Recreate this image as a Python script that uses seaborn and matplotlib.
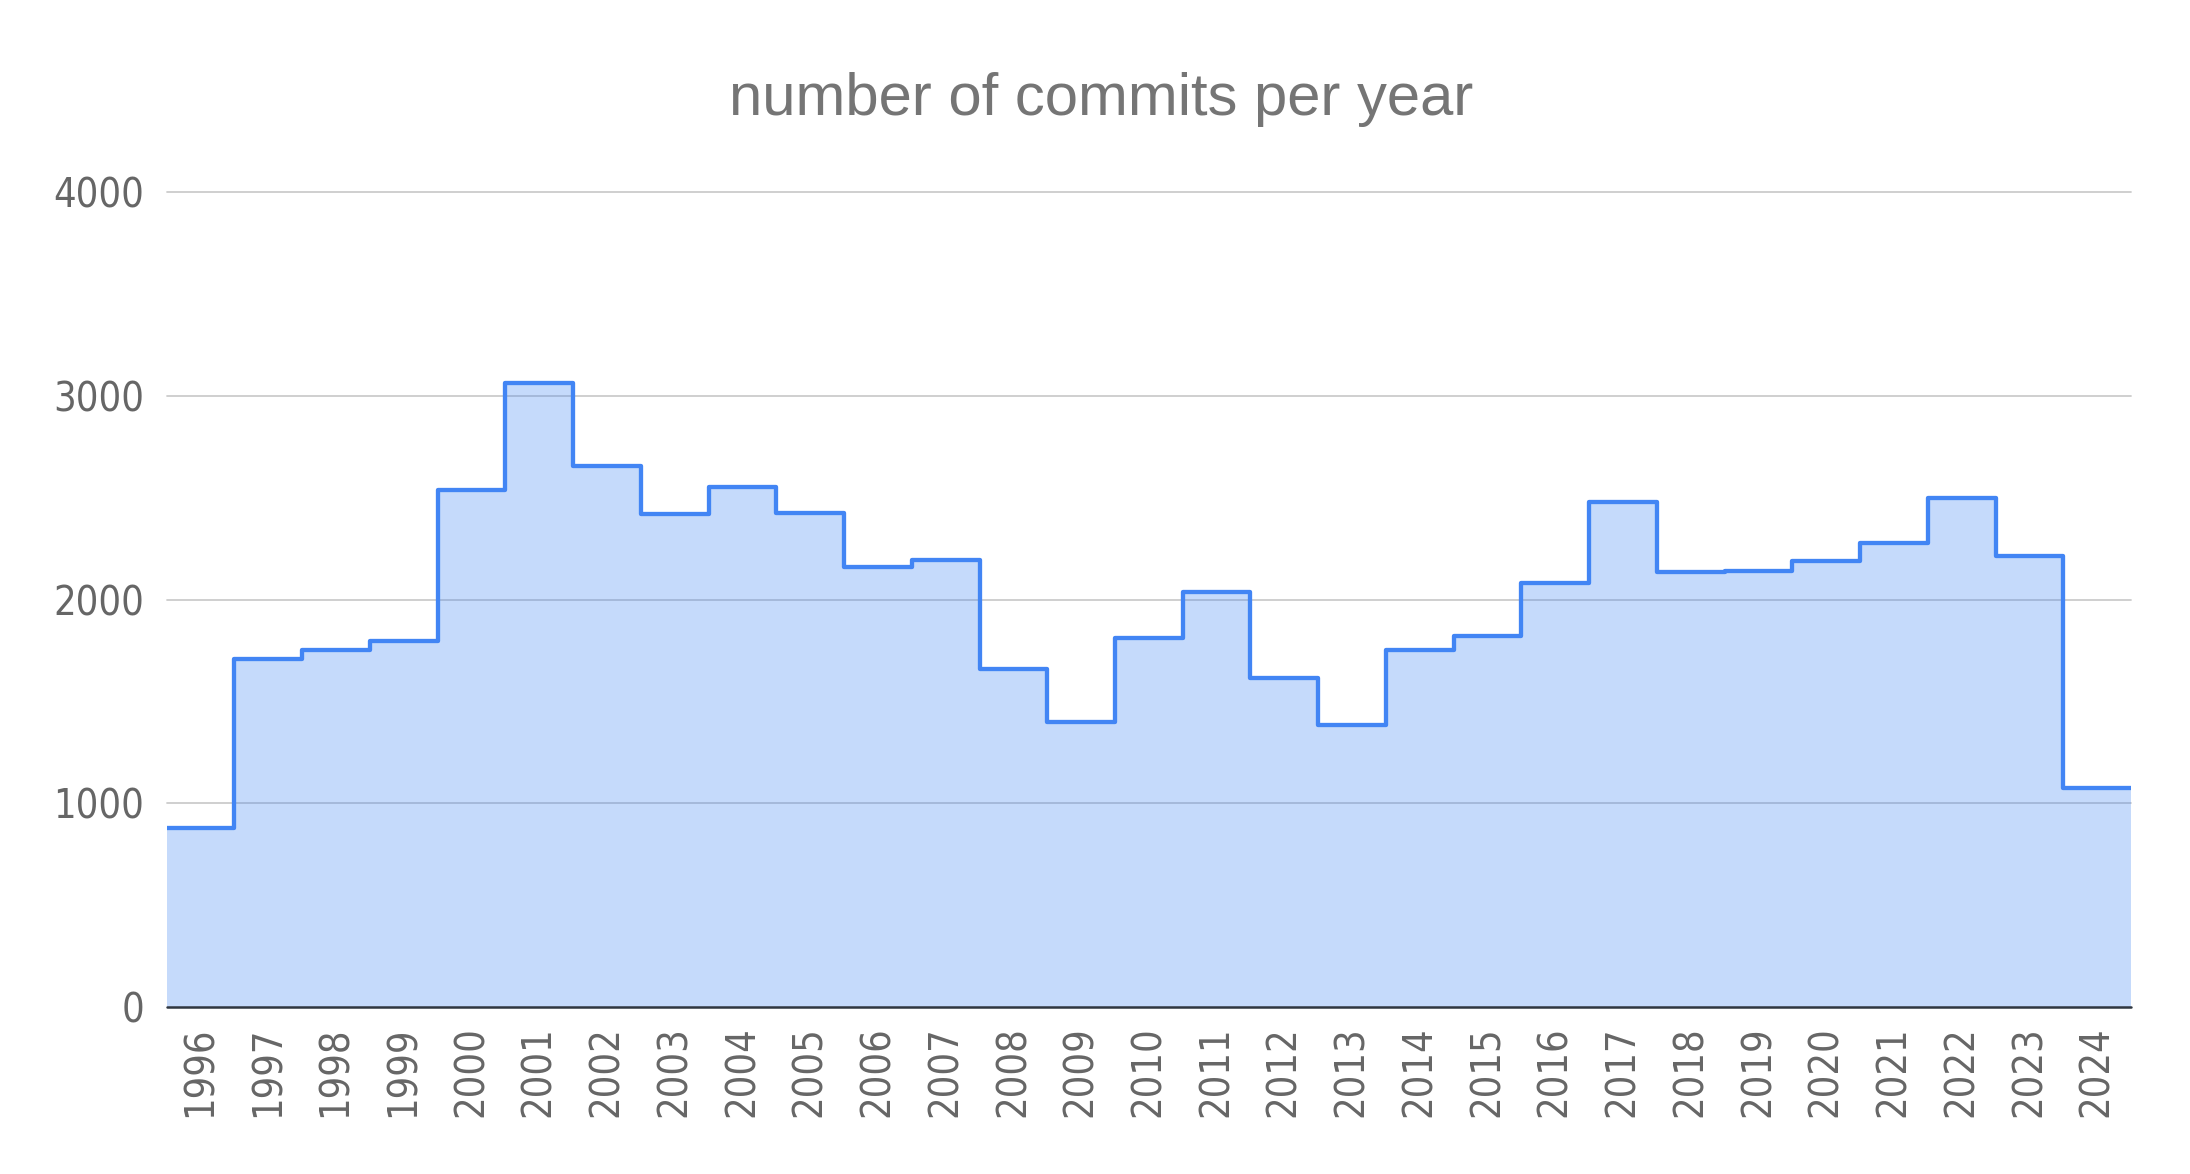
import matplotlib
matplotlib.use("Agg")
import matplotlib.pyplot as plt
import pandas as pd
import seaborn as sns

# commits per year
years = list(range(1996, 2025))
commits = [876, 1706, 1752, 1796, 2540, 3065, 2657, 2421, 2551, 2424, 2160, 2196,
           1657, 1396, 1809, 2038, 1613, 1382, 1752, 1820, 2082, 2481, 2135, 2139,
           2188, 2277, 2498, 2214, 1075]
y_ticks = [0, 1000, 2000, 3000, 4000]
year_labels = [str(y) for y in years]
title = "number of commits per year"

df = pd.DataFrame({"year": years, "commits": commits})

sns.set_style("white")
line_color = "#4285F4"
label_color = "#666666"

fig = plt.figure(figsize=(21.9, 11.74), dpi=100)
ax = fig.add_axes([0.0761, 0.1425, 0.897, 0.6937])

# grid behind the area
for y in y_ticks[1:]:
    ax.axhline(y, color="#cccccc", lw=1.3, zorder=0, clip_on=False)

# filled step area + outline
sns.histplot(data=df, x="year", weights="commits", discrete=True, element="step",
             fill=True, color=line_color, alpha=0.3, linewidth=0, ax=ax, zorder=1)
n_before = len(ax.lines)
sns.histplot(data=df, x="year", weights="commits", discrete=True, element="step",
             fill=False, color=line_color, ax=ax, zorder=3)
for ln in ax.lines[n_before:]:
    ln.set_linewidth(3.1)
    ln.set_solid_joinstyle("round")
    ln.set_color(line_color)

# dark baseline at zero
ax.axhline(0, color="#2f3640", lw=1.8, zorder=4, clip_on=False)

ax.set_xlim(years[0] - 0.5, years[-1] + 0.5)
ax.set_ylim(0, 4000)
ax.set_yticks(y_ticks)
ax.set_yticklabels([str(v) for v in y_ticks])
ax.set_xticks(years)
ax.set_xticklabels(year_labels, rotation=90)
ax.set_xlabel("")
ax.set_ylabel("")
for s in ax.spines.values():
    s.set_visible(False)

ax.tick_params(axis="y", length=0, pad=16, labelsize=28.5, labelcolor=label_color)
ax.tick_params(axis="x", length=0, pad=14, labelsize=28.5, labelcolor=label_color)
for lbl in ax.get_xticklabels() + ax.get_yticklabels():
    lbl.set_fontstretch("condensed")

fig.text(0.503, 0.902, title, ha="center", va="baseline", fontsize=43,
         color="#757575", family=["Liberation Sans", "DejaVu Sans"])

fig.savefig("out.png", dpi=100)
